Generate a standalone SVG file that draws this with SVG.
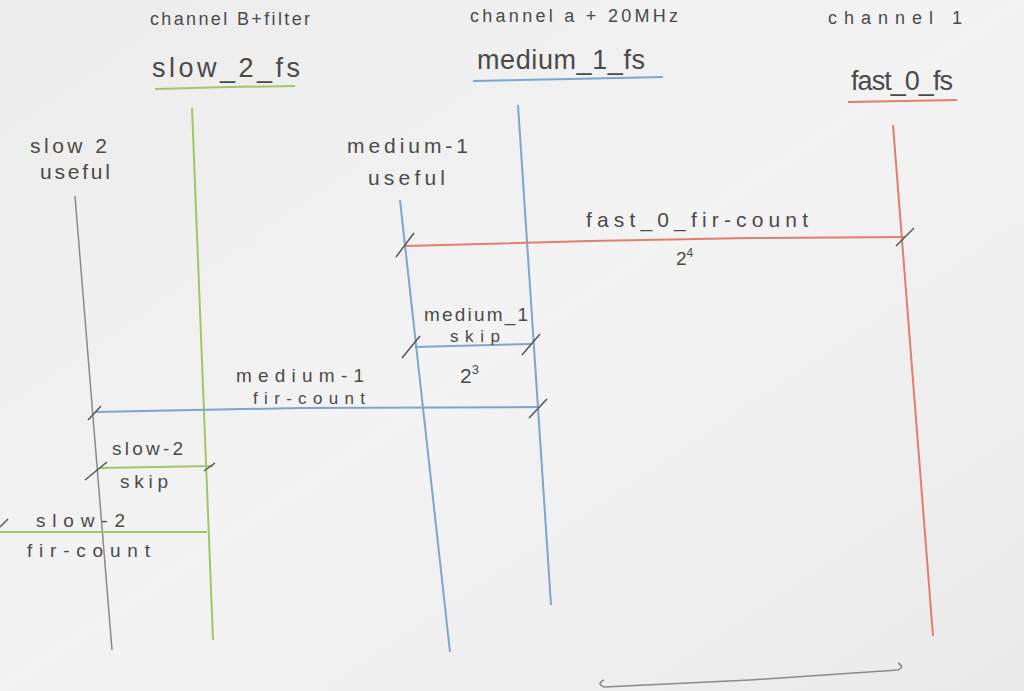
<svg xmlns="http://www.w3.org/2000/svg" width="1024" height="691" viewBox="0 0 1024 691">
<defs>
<linearGradient id="paper" x1="0" y1="0" x2="1" y2="1">
<stop offset="0" stop-color="#ececec"/>
<stop offset="0.5" stop-color="#f3f3f3"/>
<stop offset="1" stop-color="#eaeaea"/>
</linearGradient>
<style>
text{font-family:"Liberation Sans","DejaVu Sans",sans-serif;fill:#4a4a4a}
.hdr{font-size:18px}
.name{font-size:27px}
.lbl{font-size:21px}
.sm{font-size:19px}
.xs{font-size:17px}
.g{stroke:#9cc86a;fill:none;stroke-width:2}
.b{stroke:#7aa6d2;fill:none;stroke-width:2}
.r{stroke:#e0806a;fill:none;stroke-width:2}
.k{stroke:#8a8a8a;fill:none;stroke-width:1.5}
.t{stroke:#555;fill:none;stroke-width:1.5}
</style>
</defs>
<rect width="1024" height="691" fill="url(#paper)"/>

<g id="slow_2_fs">
<text class="hdr" x="150" y="25" textLength="160" lengthAdjust="spacing">channel B+filter</text>
<text class="name" x="152" y="77" textLength="148" lengthAdjust="spacing">slow_2_fs</text>
<path class="g" d="M155,89 L230,87 L295,86"/>
<path class="g" d="M192,108 L213,640"/>
</g>

<g id="medium_1_fs">
<text class="hdr" x="470" y="22" textLength="208" lengthAdjust="spacing">channel a + 20MHz</text>
<text class="name" x="477" y="69" textLength="168" lengthAdjust="spacing">medium_1_fs</text>
<path class="b" d="M473,81 L570,79 L663,77"/>
<path class="b" d="M518,105 L551,605"/>
</g>

<g id="fast_0_fs">
<text class="hdr" x="828" y="24" textLength="134" lengthAdjust="spacing">channel 1</text>
<text class="name" x="851" y="90" textLength="102" lengthAdjust="spacing">fast_0_fs</text>
<path class="r" d="M848,102 L957,100"/>
<path class="r" d="M893,125 L933,636"/>
</g>

<g id="slow_2_useful">
<text class="lbl" x="30" y="153" textLength="77" lengthAdjust="spacing">slow 2</text>
<text class="lbl" x="40" y="179" textLength="70" lengthAdjust="spacing">useful</text>
<path class="k" d="M75,196 L112,650"/>
</g>

<g id="medium_1_useful">
<text class="lbl" x="347" y="153" textLength="121" lengthAdjust="spacing">medium-1</text>
<text class="lbl" x="368" y="185" textLength="77" lengthAdjust="spacing">useful</text>
<path class="b" d="M400,200 L450,652"/>
</g>

<g id="connectors">
<path class="r" d="M405,246 L590,241 L750,238 L905,237"/>
<path class="t" d="M396,257 L414,233"/>
<path class="t" d="M896,246 L914,228"/>

<path class="b" d="M415,347 L532,344"/>
<path class="t" d="M402,358 L420,336"/>
<path class="t" d="M522,355 L540,334"/>

<path class="b" d="M95,412 L300,408 L540,407"/>
<path class="t" d="M88,420 L101,406"/>
<path class="t" d="M529,418 L547,399"/>

<path class="g" d="M100,468 L213,466"/>
<path class="t" d="M85,480 L107,462"/>
<path class="t" d="M204,471 L215,463"/>

<path class="g" d="M0,532 L207,532"/>
<path class="t" d="M0,527 L8,519"/>

<path class="k" d="M604,680 Q596,684 604,687 L750,680 L898,670 Q905,667 898,663"/>
</g>

<g id="labels">
<text class="lbl" x="586" y="227" textLength="222" lengthAdjust="spacing">fast_0_fir-count</text>
<text class="sm" x="676" y="265">2<tspan font-size="12" dy="-8">4</tspan></text>
<text class="sm" x="424" y="321" textLength="104" lengthAdjust="spacing">medium_1</text>
<text class="xs" x="450" y="342" textLength="50" lengthAdjust="spacing">skip</text>
<text class="lbl" x="460" y="383">2<tspan font-size="13" dy="-9">3</tspan></text>
<text class="sm" x="236" y="382" textLength="128" lengthAdjust="spacing">medium-1</text>
<text class="xs" x="253" y="404" textLength="112" lengthAdjust="spacing">fir-count</text>
<text class="sm" x="112" y="455" textLength="71" lengthAdjust="spacing">slow-2</text>
<text class="sm" x="120" y="488" textLength="48" lengthAdjust="spacing">skip</text>
<text class="sm" x="36" y="527" textLength="89" lengthAdjust="spacing">slow-2</text>
<text class="sm" x="27" y="557" textLength="123" lengthAdjust="spacing">fir-count</text>
</g>
</svg>
